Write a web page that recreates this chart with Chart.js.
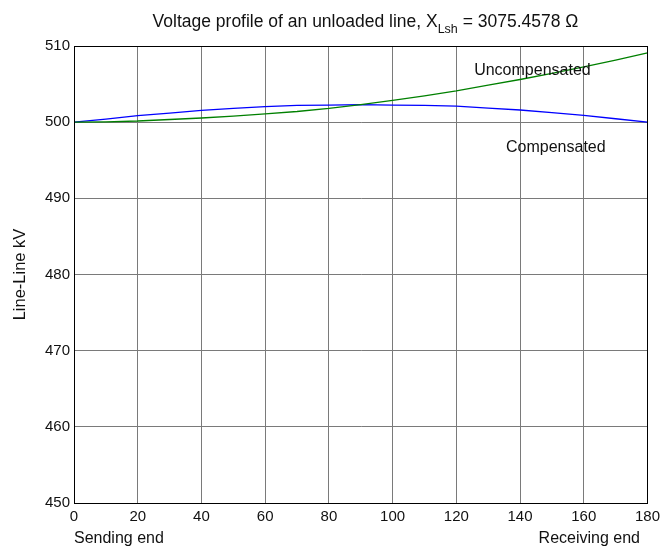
<!DOCTYPE html>
<html>
<head>
<meta charset="utf-8">
<script src="https://cdn.jsdelivr.net/npm/chart.js@4"></script>
<style>
  html, body { margin: 0; padding: 0; background: #fff; }
  #wrap { width: 665px; height: 548px; }
</style>
</head>
<body>
<div id="wrap"><canvas id="chartVolt" width="665" height="548"></canvas></div>
<script>
/* Voltage profile of an unloaded line */
var positions = [0, 10, 20, 30, 40, 50, 60, 70, 80, 90, 100, 110, 120, 130, 140, 150, 160, 170, 180];
var uncompensated = [500.0, 500.05, 500.15, 500.35, 500.55, 500.8, 501.1, 501.4, 501.8, 502.3, 502.85, 503.45, 504.1, 504.85, 505.6, 506.4, 507.25, 508.15, 509.1];
var compensated = [500.0, 500.4, 500.85, 501.2, 501.55, 501.8, 502.05, 502.2, 502.25, 502.3, 502.25, 502.2, 502.1, 501.85, 501.6, 501.25, 500.9, 500.45, 500.0];
var xTicks = [0, 20, 40, 60, 80, 100, 120, 140, 160, 180];
var yTicks = [450, 460, 470, 480, 490, 500, 510];

var FONT = '"Liberation Sans", Arial, sans-serif';

function pts(ys) {
  return positions.map(function (x, i) { return { x: x, y: ys[i] }; });
}

/* Title, axis notes, in-plot labels and the black box */
var decor = {
  id: 'decor',
  afterDraw: function (chart) {
    var ctx = chart.ctx, a = chart.chartArea;
    var xs = chart.scales.x, ys = chart.scales.y;
    ctx.save();
    ctx.strokeStyle = '#000';
    ctx.lineWidth = 1;
    ctx.strokeRect(Math.round(a.left) + 0.5, Math.round(a.top) + 0.5, Math.round(a.right - a.left), Math.round(a.bottom - a.top));

    ctx.fillStyle = '#111';
    ctx.textBaseline = 'alphabetic';

    /* title with subscript */
    var big = '17.5px ' + FONT, small = '12.5px ' + FONT;
    var p1 = 'Voltage profile of an unloaded line, X', p2 = 'Lsh', p3 = ' = 3075.4578 \u03a9';
    ctx.font = big; var w1 = ctx.measureText(p1).width, w3 = ctx.measureText(p3).width;
    ctx.font = small; var w2 = ctx.measureText(p2).width;
    var tx = 365.5 - (w1 + w2 + w3) / 2, ty = 27;
    ctx.textAlign = 'left';
    ctx.font = big; ctx.fillText(p1, tx, ty);
    ctx.font = small; ctx.fillText(p2, tx + w1, ty + 6);
    ctx.font = big; ctx.fillText(p3, tx + w1 + w2, ty);

    /* end labels under the x axis */
    var lab = '16px ' + FONT;
    ctx.font = lab;
    ctx.textAlign = 'left';
    ctx.fillText('Sending end', a.left, 543);
    ctx.textAlign = 'right';
    ctx.fillText('Receiving end', 640, 543);

    /* y axis label */
    ctx.save();
    ctx.font = '16.5px ' + FONT;
    ctx.textBaseline = 'middle';
    ctx.translate(20, (a.top + a.bottom) / 2);
    ctx.rotate(-Math.PI / 2);
    ctx.textAlign = 'center';
    ctx.fillText('Line-Line kV', 0, 0);
    ctx.restore();

    /* curve labels */
    ctx.font = lab;
    ctx.textBaseline = 'middle';
    ctx.textAlign = 'left';
    ctx.fillText('Uncompensated', xs.getPixelForValue(125.6), ys.getPixelForValue(506.8));
    ctx.fillText('Compensated', xs.getPixelForValue(135.6), ys.getPixelForValue(496.6));
    ctx.restore();
  }
};

new Chart(document.getElementById('chartVolt'), {
  type: 'line',
  data: {
    datasets: [
      { label: 'Uncompensated', data: pts(uncompensated), borderColor: '#008000', borderWidth: 1.3, pointRadius: 0, tension: 0, fill: false },
      { label: 'Compensated', data: pts(compensated), borderColor: '#0000ff', borderWidth: 1.3, pointRadius: 0, tension: 0, fill: false }
    ]
  },
  options: {
    responsive: false,
    animation: false,
    layout: { padding: { left: 0, top: 46, right: 16, bottom: 0 } },
    plugins: { legend: { display: false }, tooltip: { enabled: false }, title: { display: false } },
    scales: {
      x: {
        type: 'linear', min: 0, max: 180,
        afterBuildTicks: function (s) { s.ticks = xTicks.map(function (v) { return { value: v }; }); },
        afterFit: function (s) { s.height = 45; },
        grid: { color: '#7a7a7a', lineWidth: 1, drawTicks: false },
        border: { display: true, color: '#000' },
        ticks: { padding: 5, color: '#111', font: { family: FONT, size: 15 }, maxRotation: 0, autoSkip: false }
      },
      y: {
        min: 450, max: 510,
        afterBuildTicks: function (s) { s.ticks = yTicks.map(function (v) { return { value: v }; }); },
        afterFit: function (s) { s.width = 74; },
        grid: { color: '#7a7a7a', lineWidth: 1, drawTicks: false },
        border: { display: true, color: '#000' },
        ticks: { padding: 4, color: '#111', font: { family: FONT, size: 15 } }
      }
    }
  },
  plugins: [decor]
});
</script>
</body>
</html>
